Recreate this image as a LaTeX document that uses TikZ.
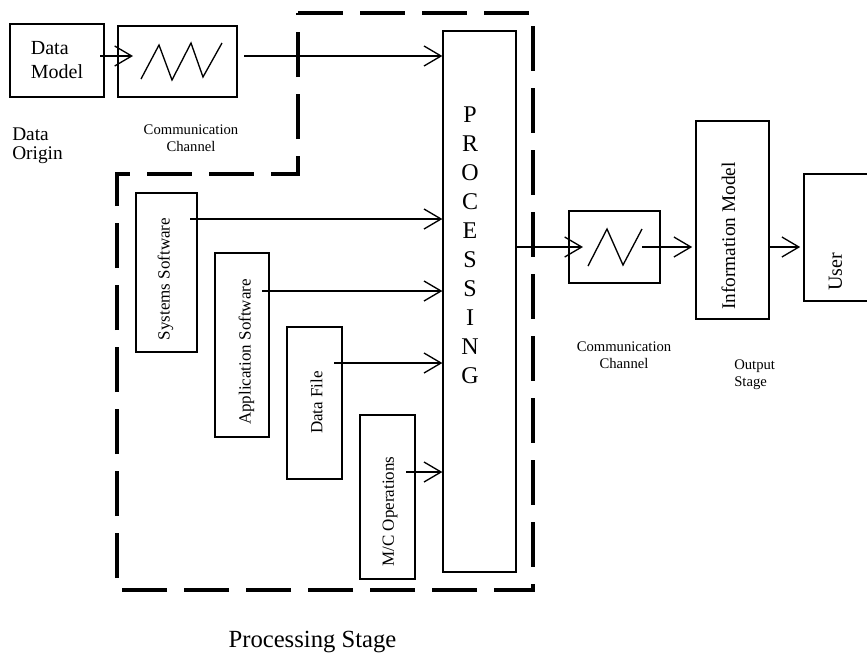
\documentclass[tikz,border=0pt]{standalone}
\usepackage{fontspec}
\setmainfont{Liberation Serif}
\usetikzlibrary{arrows.meta}

\newlength{\du}
\setlength{\du}{0.75pt}

\begin{document}
\begin{tikzpicture}[x=0.75pt,y=-0.75pt,
  box/.style={draw, line width=1.2pt, inner sep=0pt},
  flow/.style={line width=1pt, -{Straight Barb[length=12.75pt,width=15pt]}},
  zigzag/.style={line width=1pt},
  stageline/.style={draw, line width=3.6pt, dash pattern=on 33.75pt off 12.75pt, line join=miter},
  side/.style={rotate=90, inner sep=0pt, font=\fontsize{12.75}{15}\selectfont},
  small/.style={anchor=north, align=center, inner sep=0pt, font=\fontsize{11}{12.75}\selectfont}]
\useasboundingbox (0,0) rectangle (867,654);

% data origin
\node[box, minimum width=94\du, minimum height=73\du, align=left,
  font=\fontsize{15}{18}\selectfont] (model) at (57,60.5) {Data\\Model};
\node[anchor=north west, align=left, inner sep=0pt,
  font=\fontsize{14.5}{14.25}\selectfont] (origin) at (12,128) {Data\\Origin};

% first channel
\node[box, minimum width=119\du, minimum height=71\du] (chan1) at (177.5,61.5) {};
\draw[zigzag] (141,79) -- (159,45) -- (172,80) -- (191,43) -- (203,77) -- (222,43);
\node[small] (chan1lbl) at (191,125) {Communication\\Channel};

% processing stage
\draw[stageline] (298,13) -- (533,13) -- (533,590) -- (117,590) -- (117,174) -- (298,174) -- cycle;
\node[draw, line width=1pt, inner sep=0pt, minimum width=73\du, minimum height=541\du] (proc) at (479.5,301.5) {};
\foreach \ch [count=\i from 0] in {P,R,O,C,E,S,S,I,N,G}
  \node[anchor=base, inner sep=0pt, font=\fontsize{18}{18}\selectfont] at (470,122+29*\i) {\ch};

\node[box, minimum width=61\du, minimum height=159\du] (sys) at (166.5,272.5) {};
\node[side] at (165.5,279) {Systems Software};
\node[box, minimum width=54\du, minimum height=184\du] (app) at (242,345) {};
\node[side] at (246.5,352) {Application Software};
\node[box, minimum width=55\du, minimum height=152\du] (file) at (314.5,403) {};
\node[side] at (316.5,402.5) {Data File};
\node[box, minimum width=55\du, minimum height=164\du] (mc) at (387.5,497) {};
\node[side] at (390,511.5) {M/C Operations};

\node[anchor=base, inner sep=0pt, font=\fontsize{18.5}{20}\selectfont] (stagelbl) at (312.5,647) {Processing Stage};

% output side
\node[box, minimum width=91\du, minimum height=72\du] (chan2) at (614.5,247) {};
\draw[zigzag] (588,266) -- (607,229) -- (623,265) -- (642,229);
\node[small] (chan2lbl) at (624,342) {Communication\\Channel};
\node[box, minimum width=73\du, minimum height=198\du] (info) at (732.5,220) {};
\node[rotate=90, inner sep=0pt, font=\fontsize{14.5}{16}\selectfont] at (728.5,236) {Information Model};
\node[anchor=north west, align=left, inner sep=0pt,
  font=\fontsize{11}{12.75}\selectfont] (outlbl) at (734,360) {Output\\Stage};
\node[box, minimum width=66\du, minimum height=127\du] (user) at (837,237.5) {};
\node[rotate=90, inner sep=0pt, font=\fontsize{15}{16}\selectfont] at (835.5,272) {User};

% connectors
\coordinate (modelout) at (100,56);
\coordinate (chan1in) at (133,56);
\coordinate (chan1out) at (244,56);
\coordinate (sysout) at (190,219);
\coordinate (appout) at (262,291);
\coordinate (fileout) at (334,363);
\coordinate (mcout) at (406,472);
\coordinate (chan2in) at (583,247);
\coordinate (chan2out) at (642,247);

\draw[flow] (modelout) -- (chan1in);
\draw[flow] (chan1out) -- (chan1out -| proc.west);
\draw[flow] (sysout) -- (sysout -| proc.west);
\draw[flow] (appout) -- (appout -| proc.west);
\draw[flow] (fileout) -- (fileout -| proc.west);
\draw[flow] (mcout) -- (mcout -| proc.west);
\draw[flow] (chan2in -| proc.east) -- (chan2in);
\draw[flow, shorten >=3\du] (chan2out) -- (chan2out -| info.west);
\draw[flow, shorten >=3\du] (chan2out -| info.east) -- (chan2out -| user.west);
\end{tikzpicture}
\end{document}
